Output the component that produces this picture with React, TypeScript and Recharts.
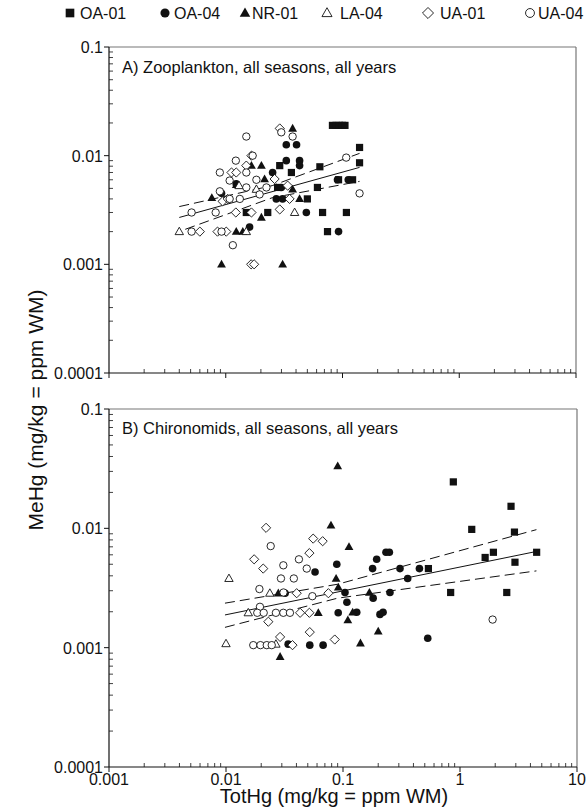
import React from "react";
import {
  ComposedChart,
  Scatter,
  XAxis,
  YAxis,
  ReferenceLine,
} from "recharts";

type Pt = [number, number];

// A) zooplankton: TotHg (x) vs MeHg (y), mg/kg wet mass
const zooOA01: Pt[] = [
  [0.082, 0.019], [0.088, 0.019], [0.094, 0.019], [0.1, 0.019], [0.105, 0.019],
  [0.14, 0.0119], [0.14, 0.0086], [0.064, 0.0079], [0.0365, 0.007], [0.029, 0.0081],
  [0.122, 0.006], [0.0925, 0.006], [0.061, 0.0051], [0.05, 0.004], [0.015, 0.003],
  [0.0229, 0.003], [0.0675, 0.003], [0.108, 0.003], [0.0744, 0.002], [0.0278, 0.0051],
];
const zooOA04: Pt[] = [
  [0.033, 0.0126], [0.0404, 0.0126], [0.0429, 0.009], [0.033, 0.009], [0.0429, 0.0081],
  [0.0252, 0.007], [0.0906, 0.006], [0.112, 0.006], [0.0271, 0.004], [0.0307, 0.004],
  [0.049, 0.003], [0.016, 0.0022], [0.0925, 0.002], [0.0123, 0.0055], [0.0092, 0.0045],
  [0.0299, 0.0051],
];
const zooNR01: Pt[] = [
  [0.0374, 0.0178], [0.0166, 0.0081], [0.0202, 0.0081], [0.0076, 0.0041], [0.0215, 0.0061],
  [0.0123, 0.0054], [0.0429, 0.004], [0.0374, 0.0049], [0.0202, 0.0027], [0.0123, 0.002],
  [0.014, 0.002], [0.0092, 0.001], [0.0307, 0.001],
];
const zooLA04: Pt[] = [
  [0.004, 0.002], [0.0389, 0.003], [0.0183, 0.0049], [0.013, 0.0053], [0.015, 0.002],
];
const zooUA01: Pt[] = [
  [0.029, 0.0178], [0.0166, 0.01], [0.0112, 0.007], [0.0123, 0.007], [0.0262, 0.0061],
  [0.0339, 0.0053], [0.0352, 0.004], [0.0094, 0.0038], [0.029, 0.0032], [0.0122, 0.003],
  [0.0166, 0.003], [0.006, 0.002], [0.0085, 0.002], [0.0101, 0.002], [0.0165, 0.001],
  [0.0175, 0.001], [0.0104, 0.004], [0.015, 0.0081],
];
const zooUA04: Pt[] = [
  [0.015, 0.015], [0.0299, 0.0164], [0.0374, 0.015], [0.017, 0.01], [0.0122, 0.009],
  [0.0089, 0.007], [0.015, 0.007], [0.0108, 0.0059], [0.0183, 0.006], [0.015, 0.0051],
  [0.0089, 0.0047], [0.0108, 0.004], [0.0132, 0.004], [0.0195, 0.0044], [0.0223, 0.0051],
  [0.0051, 0.003], [0.0082, 0.003], [0.0051, 0.002], [0.0092, 0.002], [0.0115, 0.0015],
  [0.1076, 0.0096], [0.14, 0.0045],
];
const zooFit: Pt[] = [[0.004, 0.0027], [0.14, 0.0078]];
const zooUpper: Pt[] = [[0.004, 0.0034], [0.025, 0.0053], [0.14, 0.0105]];
const zooLower: Pt[] = [[0.0045, 0.0021], [0.025, 0.0041], [0.14, 0.0058]];

// B) chironomids
const chiroOA01: Pt[] = [
  [0.877, 0.0245], [2.73, 0.0153], [1.26, 0.0098], [2.92, 0.0093], [1.64, 0.0057],
  [1.93, 0.0063], [4.52, 0.0063], [2.95, 0.0052], [0.537, 0.0046], [0.832, 0.0029],
  [2.51, 0.0029],
];
const chiroOA04: Pt[] = [
  [0.0885, 0.005], [0.0577, 0.0043], [0.032, 0.00286], [0.091, 0.00196], [0.104, 0.0029],
  [0.108, 0.0024], [0.034, 0.00107], [0.052, 0.00105], [0.0676, 0.00105], [0.194, 0.0055],
  [0.233, 0.0063], [0.249, 0.0063], [0.179, 0.0046], [0.307, 0.0046], [0.45, 0.0046],
  [0.357, 0.0038], [0.181, 0.0026], [0.252, 0.0029], [0.131, 0.00198], [0.207, 0.0019],
  [0.22, 0.00198], [0.53, 0.0012],
];
const chiroNR01: Pt[] = [
  [0.0901, 0.0332], [0.0789, 0.0106], [0.1125, 0.007], [0.0873, 0.0038], [0.0912, 0.0032],
  [0.028, 0.00286], [0.0615, 0.00196], [0.11, 0.0017], [0.029, 0.00084], [0.168, 0.0029],
  [0.121, 0.00198], [0.2, 0.00137], [0.141, 0.00109],
];
const chiroLA04: Pt[] = [
  [0.0106, 0.0038], [0.01, 0.00108], [0.0237, 0.00286], [0.0155, 0.00196], [0.0267, 0.00107],
];
const chiroUA01: Pt[] = [
  [0.022, 0.0101], [0.0556, 0.0082], [0.067, 0.0078], [0.0174, 0.0055], [0.0208, 0.0046],
  [0.0516, 0.0062], [0.0402, 0.00286], [0.075, 0.00286], [0.043, 0.00196], [0.0516, 0.00196],
  [0.023, 0.00165], [0.029, 0.00123], [0.052, 0.00135], [0.037, 0.00105], [0.085, 0.00117],
];
const chiroUA04: Pt[] = [
  [0.0241, 0.0071], [0.042, 0.0055], [0.049, 0.0046], [0.0309, 0.0049], [0.0295, 0.0038],
  [0.038, 0.0038], [0.0193, 0.0031], [0.031, 0.0029], [0.0547, 0.0027], [0.0195, 0.0022],
  [0.0185, 0.00196], [0.021, 0.00196], [0.0267, 0.00196], [0.0309, 0.00196], [0.0352, 0.00196],
  [0.0171, 0.00105], [0.0197, 0.00105], [0.0223, 0.00105], [0.0246, 0.00105], [1.9, 0.00172],
];
const chiroFit: Pt[] = [[0.0098, 0.00188], [4.5, 0.0064]];
const chiroUpper: Pt[] = [[0.0098, 0.00236], [0.09, 0.0034], [4.5, 0.00975]];
const chiroLower: Pt[] = [[0.0098, 0.00148], [0.09, 0.0026], [4.5, 0.0044]];

const siteNames = ["OA-01", "OA-04", "NR-01", "LA-04", "UA-01", "UA-04"];
const xMajor = [0.001, 0.01, 0.1, 1, 10];
const xLabels = ["0.001", "0.01", "0.1", "1", "10"];
const yMajor = [0.0001, 0.001, 0.01, 0.1];
const yLabels = ["0.0001", "0.001", "0.01", "0.1"];

type Kind = "square" | "dot" | "tri" | "triOpen" | "diamond" | "ring";
const kinds: Kind[] = ["square", "dot", "tri", "triOpen", "diamond", "ring"];

const FONT = '"Liberation Sans", Arial, Helvetica, sans-serif';
const INK = "#111";

const withMinors = (major: number[]) => [
  ...major,
  ...major.slice(0, -1).flatMap((m) => [2, 3, 4, 5, 6, 7, 8, 9].map((k) => m * k)),
];

const toRows = (pts: Pt[]) => pts.map(([x, y]) => ({ x, y }));

function Glyph({ cx, cy, kind, s = 1 }: { cx: number; cy: number; kind: Kind; s?: number }) {
  const open = { fill: "#fff", stroke: INK, strokeWidth: 0.9 };
  switch (kind) {
    case "square":
      return <rect x={cx - 3.6 * s} y={cy - 3.6 * s} width={7.2 * s} height={7.2 * s} fill={INK} />;
    case "dot":
      return <circle cx={cx} cy={cy} r={3.8 * s} fill={INK} />;
    case "tri":
      return (
        <polygon
          points={`${cx},${cy - 4.6 * s} ${cx - 4.4 * s},${cy + 3.2 * s} ${cx + 4.4 * s},${cy + 3.2 * s}`}
          fill={INK}
        />
      );
    case "triOpen":
      return (
        <polygon
          points={`${cx},${cy - 4.4 * s} ${cx - 4.2 * s},${cy + 3 * s} ${cx + 4.2 * s},${cy + 3 * s}`}
          {...open}
        />
      );
    case "diamond":
      return (
        <polygon
          points={`${cx},${cy - 4.6 * s} ${cx + 4.6 * s},${cy} ${cx},${cy + 4.6 * s} ${cx - 4.6 * s},${cy}`}
          {...open}
        />
      );
    default:
      return <circle cx={cx} cy={cy} r={3.7 * s} {...open} />;
  }
}

function XTick(props: any) {
  const { x, y, payload, showLabels } = props;
  const i = xMajor.indexOf(payload.value);
  if (i < 0) return <line x1={x} x2={x} y1={y} y2={y - 4} stroke={INK} strokeWidth={0.8} />;
  return (
    <g>
      <line x1={x} x2={x} y1={y} y2={y + 5} stroke={INK} strokeWidth={1} />
      {showLabels && (
        <text x={x} y={y + 18} textAnchor="middle" fontSize={16} fill={INK} fontFamily={FONT}>
          {xLabels[i]}
        </text>
      )}
    </g>
  );
}

function YTick(props: any) {
  const { x, y, payload } = props;
  const i = yMajor.indexOf(payload.value);
  if (i < 0) return <line x1={x} x2={x + 4} y1={y} y2={y} stroke={INK} strokeWidth={0.8} />;
  return (
    <g>
      <line x1={x - 5} x2={x} y1={y} y2={y} stroke={INK} strokeWidth={1} />
      <text x={x - 6} y={y + 6} textAnchor="end" fontSize={16} fill={INK} fontFamily={FONT}>
        {yLabels[i]}
      </text>
    </g>
  );
}

function Panel({
  sets,
  fit,
  upper,
  lower,
  height,
  margin,
  showXLabels,
}: {
  sets: Pt[][];
  fit: Pt[];
  upper: Pt[];
  lower: Pt[];
  height: number;
  margin: { top: number; right: number; bottom: number; left: number };
  showXLabels: boolean;
}) {
  const dashed = { stroke: INK, strokeWidth: 1, strokeDasharray: "10 5" };
  const noMark = () => <g />;
  return (
    <ComposedChart width={587} height={height} margin={margin}>
      <XAxis
        type="number"
        dataKey="x"
        scale="log"
        domain={[0.001, 10]}
        allowDataOverflow
        ticks={withMinors(xMajor)}
        interval={0}
        height={30}
        tickSize={0}
        tickMargin={0}
        axisLine={{ stroke: INK, strokeWidth: 1.2 }}
        tick={(p: any) => <XTick {...p} showLabels={showXLabels} />}
      />
      <YAxis
        type="number"
        dataKey="y"
        scale="log"
        domain={[0.0001, 0.1]}
        allowDataOverflow
        ticks={withMinors(yMajor)}
        interval={0}
        width={60}
        tickSize={0}
        tickMargin={0}
        axisLine={{ stroke: INK, strokeWidth: 1.2 }}
        tick={(p: any) => <YTick {...p} />}
      />
      <ReferenceLine y={0.1} stroke="#777" strokeWidth={1.2} />
      <ReferenceLine x={10} stroke="#777" strokeWidth={1.2} />
      <Scatter data={toRows(upper)} line={dashed} shape={noMark} isAnimationActive={false} />
      <Scatter data={toRows(lower)} line={dashed} shape={noMark} isAnimationActive={false} />
      <Scatter
        data={toRows(fit)}
        line={{ stroke: INK, strokeWidth: 1 }}
        shape={noMark}
        isAnimationActive={false}
      />
      {sets.map((pts, i) => (
        <Scatter
          key={siteNames[i]}
          name={siteNames[i]}
          data={toRows(pts)}
          shape={(p: any) => <Glyph cx={p.cx} cy={p.cy} kind={kinds[i]} />}
          isAnimationActive={false}
        />
      ))}
    </ComposedChart>
  );
}

// legend layout: glyph centre and label start
const legendPos = [
  [70, 80], [165, 174], [245, 252], [327, 340], [428, 440], [530, 538],
];

export default function App() {
  return (
    <div
      style={{
        position: "absolute",
        left: 0,
        top: 0,
        width: 587,
        height: 808,
        background: "#fff",
        fontFamily: FONT,
        color: INK,
        overflow: "hidden",
      }}
    >
      <svg width={587} height={30} style={{ position: "absolute", left: 0, top: 0 }}>
        {siteNames.map((name, i) => (
          <g key={name}>
            <Glyph cx={legendPos[i][0]} cy={13} kind={kinds[i]} s={1.2} />
            <text x={legendPos[i][1]} y={19} fontSize={16} fill={INK} fontFamily={FONT}>
              {name}
            </text>
          </g>
        ))}
      </svg>

      <div style={{ position: "absolute", left: 0, top: 0 }}>
        <Panel
          sets={[zooOA01, zooOA04, zooNR01, zooLA04, zooUA01, zooUA04]}
          fit={zooFit}
          upper={zooUpper}
          lower={zooLower}
          height={410}
          margin={{ top: 47, right: 11, bottom: 7, left: 49 }}
          showXLabels={false}
        />
      </div>
      <div style={{ position: "absolute", left: 0, top: 380 }}>
        <Panel
          sets={[chiroOA01, chiroOA04, chiroNR01, chiroLA04, chiroUA01, chiroUA04]}
          fit={chiroFit}
          upper={chiroUpper}
          lower={chiroLower}
          height={428}
          margin={{ top: 29, right: 10, bottom: 11, left: 49 }}
          showXLabels={true}
        />
      </div>

      <div style={{ position: "absolute", left: 122, top: 58, fontSize: 16.5, lineHeight: "18px" }}>
        A) Zooplankton, all seasons, all years
      </div>
      <div style={{ position: "absolute", left: 122, top: 419, fontSize: 16.5, lineHeight: "18px" }}>
        B) Chironomids, all seasons, all years
      </div>

      <div
        style={{
          position: "absolute",
          left: 35,
          top: 410,
          fontSize: 21,
          lineHeight: 1,
          whiteSpace: "nowrap",
          transform: "translate(-50%, -50%) rotate(-90deg)",
        }}
      >
        MeHg (mg/kg = ppm WM)
      </div>
      <div
        style={{
          position: "absolute",
          left: 334,
          top: 796,
          fontSize: 20,
          lineHeight: 1,
          whiteSpace: "nowrap",
          transform: "translate(-50%, -50%)",
        }}
      >
        TotHg (mg/kg = ppm WM)
      </div>
    </div>
  );
}
